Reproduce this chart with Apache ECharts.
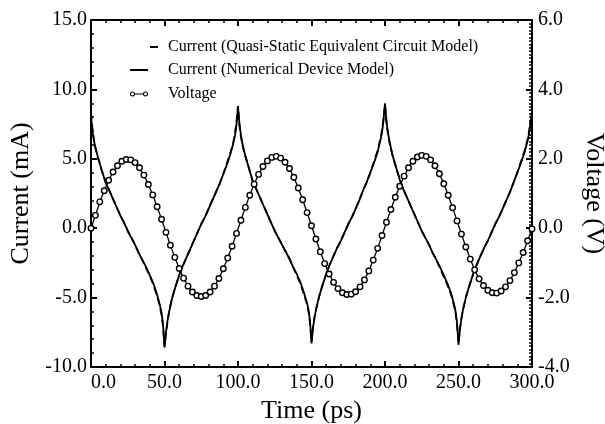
<!DOCTYPE html>
<html>
<head>
<meta charset="utf-8">
<script src="https://cdn.jsdelivr.net/npm/echarts@6/dist/echarts.min.js"></script>
<style>
  html, body { margin: 0; padding: 0; background: #fff; }
  #chart { width: 605px; height: 424px; }
</style>
</head>
<body>
<div id="chart"></div>
<script>
// time samples for the current curves (ps)
var currentTime = [
  0,1,2,3,5,7.5,10,12.5,15,17.5,20,22.5,25,27.5,30,32.5,35,37.5,40,42.5,45,47,48,49,
  50,51,52,53,55,57.5,60,62.5,65,67.5,70,72.5,75,77.5,80,82.5,85,87.5,90,92.5,95,97,98,99,
  100,101,102,103,105,107.5,110,112.5,115,117.5,120,122.5,125,127.5,130,132.5,135,137.5,140,142.5,145,147,148,149,
  150,151,152,153,155,157.5,160,162.5,165,167.5,170,172.5,175,177.5,180,182.5,185,187.5,190,192.5,195,197,198,199,
  200,201,202,203,205,207.5,210,212.5,215,217.5,220,222.5,225,227.5,230,232.5,235,237.5,240,242.5,245,247,248,249,
  250,251,252,253,255,257.5,260,262.5,265,267.5,270,272.5,275,277.5,280,282.5,285,287.5,290,292.5,295,297,298,299,
  300
];
// current, numerical device model (mA)
var currentNumerical = [
  8.1,7.0,6.3,5.8,5.0,4.1,3.3,2.7,2.1,1.5,0.9,0.4,-0.2,-0.7,-1.2,-1.8,-2.3,-2.8,-3.4,-4.0,-4.8,-5.6,-6.1,-6.9,
  -8.6,-7.5,-6.7,-6.1,-5.1,-4.2,-3.4,-2.7,-2.1,-1.5,-0.9,-0.3,0.3,0.8,1.4,2.0,2.6,3.2,3.9,4.6,5.4,6.2,6.7,7.5,
  8.7,7.5,6.7,6.1,5.2,4.3,3.4,2.8,2.2,1.6,1.0,0.4,-0.2,-0.7,-1.2,-1.7,-2.2,-2.8,-3.3,-3.9,-4.7,-5.4,-5.9,-6.7,
  -8.3,-7.2,-6.5,-5.9,-5.0,-4.1,-3.3,-2.6,-2.0,-1.4,-0.9,-0.3,0.3,0.8,1.4,2.0,2.7,3.3,4.0,4.7,5.5,6.4,6.9,7.8,
  9.0,7.7,6.9,6.3,5.3,4.4,3.5,2.8,2.2,1.6,1.0,0.4,-0.2,-0.7,-1.2,-1.8,-2.3,-2.8,-3.4,-4.0,-4.7,-5.5,-6.0,-6.8,
  -8.4,-7.3,-6.5,-5.9,-5.0,-4.1,-3.3,-2.6,-2.0,-1.4,-0.9,-0.3,0.3,0.8,1.4,2.0,2.6,3.3,4.0,4.7,5.5,6.3,6.8,7.6,
  8.4
];
// current, quasi-static equivalent circuit model (mA)
var currentQuasiStatic = [
  8.3,7.1,6.4,5.8,5.0,4.1,3.3,2.7,2.1,1.5,0.9,0.4,-0.2,-0.7,-1.2,-1.8,-2.3,-2.9,-3.4,-4.1,-4.9,-5.7,-6.3,-7.1,
  -8.5,-7.6,-6.8,-6.1,-5.1,-4.2,-3.4,-2.7,-2.1,-1.5,-0.9,-0.3,0.3,0.8,1.4,2.0,2.6,3.2,3.9,4.7,5.5,6.3,6.9,7.7,
  8.8,7.4,6.6,6.0,5.2,4.3,3.4,2.8,2.2,1.6,1.0,0.4,-0.2,-0.7,-1.2,-1.7,-2.2,-2.8,-3.4,-4.0,-4.8,-5.5,-6.0,-6.9,
  -8.2,-7.1,-6.4,-5.9,-5.0,-4.1,-3.3,-2.6,-2.0,-1.4,-0.9,-0.3,0.3,0.8,1.4,2.0,2.7,3.3,4.0,4.8,5.6,6.5,7.1,7.9,
  8.9,7.6,6.8,6.2,5.3,4.4,3.5,2.8,2.2,1.6,1.0,0.4,-0.2,-0.7,-1.2,-1.8,-2.3,-2.9,-3.5,-4.1,-4.8,-5.6,-6.1,-7.0,
  -8.3,-7.2,-6.5,-5.9,-5.0,-4.1,-3.3,-2.6,-2.0,-1.4,-0.9,-0.3,0.3,0.8,1.4,2.0,2.6,3.3,4.0,4.8,5.6,6.4,7.0,7.7,
  8.3
];
// voltage samples (ps)
var voltageTime = [
  0,3,6,9,12,15,18,21,24,27,30,33,36,39,42,45,48,51,54,57,60,63,66,69,72,75,78,81,84,87,90,93,96,99,
  102,105,108,111,114,117,120,123,126,129,132,135,138,141,144,147,150,153,156,159,162,165,168,171,174,177,180,183,186,189,192,195,198,
  201,204,207,210,213,216,219,222,225,228,231,234,237,240,243,246,249,252,255,258,261,264,267,270,273,276,279,282,285,288,291,294,297,300
];
// voltage (V)
var voltage = [
  0,0.37,0.76,1.08,1.38,1.62,1.80,1.93,1.98,1.97,1.89,1.74,1.53,1.26,0.96,0.62,0.26,-0.12,-0.49,-0.84,-1.16,-1.44,-1.67,-1.84,-1.94,-1.97,-1.94,-1.84,-1.67,-1.45,-1.17,-0.86,-0.52,-0.15,
  0.23,0.60,0.95,1.27,1.55,1.78,1.94,2.04,2.07,2.02,1.90,1.72,1.47,1.16,0.82,0.45,0.07,-0.31,-0.68,-1.02,-1.32,-1.56,-1.74,-1.86,-1.91,-1.90,-1.83,-1.69,-1.49,-1.23,-0.92,-0.58,-0.21,
  0.17,0.54,0.89,1.21,1.50,1.74,1.93,2.05,2.10,2.07,1.97,1.80,1.57,1.28,0.95,0.59,0.21,-0.17,-0.54,-0.89,-1.20,-1.46,-1.65,-1.79,-1.86,-1.87,-1.81,-1.69,-1.51,-1.28,-1.00,-0.70,-0.36,-0.02
];

function pairs(xs, ys) {
  var out = [];
  for (var i = 0; i < xs.length; i++) out.push([xs[i], ys[i]]);
  return out;
}

var serif = '"Liberation Serif", "DejaVu Serif", serif';
var fmt1 = function (v) { return v.toFixed(1); };
var nameQS = 'Current (Quasi-Static Equivalent Circuit Model)';
var nameNum = 'Current (Numerical Device Model)';
var nameV = 'Voltage';

// legend icons: short dash, long line, o—o
var iconDash = 'path://M0,0 L8,0 L8,2 L0,2 Z';
var iconLine = 'path://M0,0 L18,0 L18,2 L0,2 Z';
var iconRing = 'path://M0,2.5 A2.5,2.5 0 1,1 5,2.5 A2.5,2.5 0 1,1 0,2.5 Z M1.1,2.5 A1.4,1.4 0 1,0 3.9,2.5 A1.4,1.4 0 1,0 1.1,2.5 Z' +
  ' M5,2 L13,2 L13,3 L5,3 Z' +
  ' M13,2.5 A2.5,2.5 0 1,1 18,2.5 A2.5,2.5 0 1,1 13,2.5 Z M14.1,2.5 A1.4,1.4 0 1,0 16.9,2.5 A1.4,1.4 0 1,0 14.1,2.5 Z';

var myChart = echarts.init(document.getElementById('chart'));

var axisBase = {
  axisLine: { show: true, onZero: false, lineStyle: { color: '#000', width: 2 } },
  axisTick: { show: true, inside: true, length: 6, lineStyle: { color: '#000', width: 2 } },
  minorTick: { show: true, length: 3, lineStyle: { color: '#000', width: 1.5 } },
  splitLine: { show: false },
  nameTextStyle: { fontFamily: serif, fontSize: 26, color: '#000' }
};

function legendItem(name, icon, left, top, w, h, pad) {
  return {
    data: [{ name: name, icon: icon }],
    left: left, top: top, padding: 0,
    itemWidth: w, itemHeight: h,
    selectedMode: false,
    itemStyle: { color: '#000', borderWidth: 0 },
    textStyle: { fontFamily: serif, fontSize: 16, color: '#000', padding: [0, 0, 0, pad] }
  };
}

var option = {
  animation: false,
  backgroundColor: '#fff',
  grid: { left: 91, right: 73, top: 20, bottom: 57, outerBoundsMode: 'none' },
  legend: [
    legendItem(nameQS, iconDash, 150, 39, 8, 2, 5),
    legendItem(nameNum, iconLine, 130, 62, 18, 2, 15),
    legendItem(nameV, iconRing, 130, 86, 18, 5, 15)
  ],
  xAxis: [
    Object.assign({}, axisBase, {
      type: 'value', position: 'bottom', min: 0, max: 300, interval: 50,
      minorTick: Object.assign({}, axisBase.minorTick, { splitNumber: 5 }),
      axisLabel: { formatter: fmt1, fontFamily: serif, fontSize: 20, color: '#000', margin: 6, alignMinLabel: 'left' },
      name: 'Time (ps)', nameLocation: 'middle', nameGap: 30
    }),
    Object.assign({}, axisBase, {
      type: 'value', position: 'top', min: 0, max: 300, interval: 50,
      minorTick: Object.assign({}, axisBase.minorTick, { splitNumber: 5 }),
      axisLabel: { show: false }
    })
  ],
  yAxis: [
    Object.assign({}, axisBase, {
      type: 'value', position: 'left', min: -10, max: 15, interval: 5,
      minorTick: Object.assign({}, axisBase.minorTick, { splitNumber: 5 }),
      axisLabel: { formatter: fmt1, fontFamily: serif, fontSize: 20, color: '#000', margin: 4 },
      name: 'Current (mA)', nameLocation: 'middle', nameRotate: 90, nameGap: 50
    }),
    Object.assign({}, axisBase, {
      type: 'value', position: 'right', min: -4, max: 6, interval: 2,
      minorTick: Object.assign({}, axisBase.minorTick, { splitNumber: 20, length: 3 }),
      axisLabel: { formatter: fmt1, fontFamily: serif, fontSize: 20, color: '#000', margin: 6 },
      name: 'Voltage (V)', nameLocation: 'middle', nameRotate: -90, nameGap: 40
    })
  ],
  series: [
    {
      name: nameQS, type: 'line', yAxisIndex: 0,
      data: pairs(currentTime, currentQuasiStatic),
      symbol: 'none',
      lineStyle: { color: '#000', width: 1.8, type: [7, 4] },
      itemStyle: { color: '#000' }
    },
    {
      name: nameNum, type: 'line', yAxisIndex: 0,
      data: pairs(currentTime, currentNumerical),
      symbol: 'none',
      lineStyle: { color: '#000', width: 1.8 },
      itemStyle: { color: '#000' }
    },
    {
      name: nameV, type: 'line', yAxisIndex: 1,
      data: pairs(voltageTime, voltage),
      symbol: 'circle', symbolSize: 5.5, showAllSymbol: true,
      lineStyle: { color: '#000', width: 1.3 },
      itemStyle: { color: '#fff', borderColor: '#000', borderWidth: 1.4 },
      z: 3
    }
  ]
};

myChart.setOption(option);
</script>
</body>
</html>
